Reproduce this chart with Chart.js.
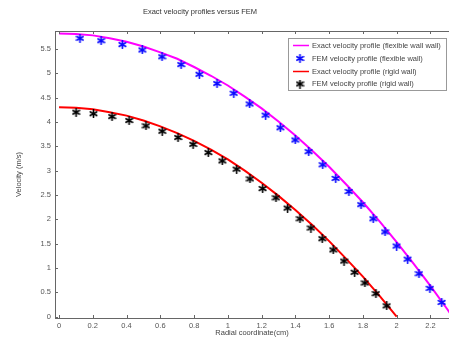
<!DOCTYPE html>
<html>
<head>
<meta charset="utf-8">
<script src="https://cdn.jsdelivr.net/npm/chart.js@4/dist/chart.umd.min.js"></script>
<style>
  html, body { margin: 0; padding: 0; background: #fff; }
  canvas { display: block; }
</style>
</head>
<body>
<canvas id="chart" width="449" height="338"></canvas>
<script>
// values
const flexExactR = [0, 0.1, 0.2, 0.3, 0.4, 0.5, 0.6, 0.7, 0.8, 0.9, 1.0, 1.1, 1.2, 1.3, 1.4, 1.5, 1.6, 1.7, 1.8, 1.9, 2.0, 2.1, 2.2, 2.3, 2.33];
const flexExactV = [5.82, 5.81, 5.78, 5.72, 5.65, 5.55, 5.43, 5.30, 5.13, 4.95, 4.75, 4.52, 4.28, 4.01, 3.72, 3.41, 3.08, 2.72, 2.35, 1.95, 1.53, 1.09, 0.63, 0.15, 0];

const flexFemR = [0.124, 0.249, 0.375, 0.493, 0.610, 0.723, 0.831, 0.936, 1.035, 1.129, 1.224, 1.311, 1.399, 1.479, 1.562, 1.639, 1.717, 1.789, 1.861, 1.931, 2.000, 2.065, 2.132, 2.197, 2.267];
const flexFemV = [5.72, 5.67, 5.59, 5.48, 5.34, 5.18, 4.98, 4.79, 4.59, 4.37, 4.14, 3.88, 3.63, 3.39, 3.12, 2.84, 2.57, 2.30, 2.01, 1.74, 1.45, 1.18, 0.88, 0.58, 0.29];

const rigidExactR = [0, 0.1, 0.2, 0.3, 0.4, 0.5, 0.6, 0.7, 0.8, 0.9, 1.0, 1.1, 1.2, 1.3, 1.4, 1.5, 1.6, 1.7, 1.8, 1.9, 2.0];
const rigidExactV = [4.30, 4.29, 4.26, 4.20, 4.13, 4.03, 3.91, 3.77, 3.61, 3.43, 3.23, 3.00, 2.75, 2.48, 2.19, 1.88, 1.55, 1.19, 0.82, 0.42, 0];

const rigidFemR = [0.101, 0.204, 0.314, 0.415, 0.515, 0.611, 0.705, 0.794, 0.884, 0.967, 1.052, 1.131, 1.206, 1.285, 1.354, 1.427, 1.492, 1.559, 1.624, 1.688, 1.751, 1.812, 1.877, 1.941];
const rigidFemV = [4.20, 4.17, 4.11, 4.03, 3.92, 3.81, 3.68, 3.54, 3.37, 3.20, 3.03, 2.83, 2.63, 2.44, 2.23, 2.01, 1.82, 1.60, 1.37, 1.14, 0.91, 0.69, 0.47, 0.22];

const seriesLabels = [
    'Exact velocity profile (flexible wall wall)',
    'FEM velocity profile (flexible wall)',
    'Exact velocity profile (rigid wall)',
    'FEM velocity profile (rigid wall)'
];

const chartTitle = 'Exact velocity profiles versus FEM';
const xTitle = 'Radial coordinate(cm)';
const yTitle = 'Velocity (m/s)';

const FONT = "'Liberation Sans', Arial, sans-serif";
const AXIS = '#666';

function pairs(xs, ys) {
    return xs.map((x, i) => ({ x: x, y: ys[i] }));
}

function fmt(v) {
    return String(Math.round(v * 10) / 10);
}

// small six-armed asterisk used as the marker
function starSprite(color, size) {
    const c = document.createElement('canvas');
    c.width = size;
    c.height = size;
    const g = c.getContext('2d');
    const m = size / 2;
    const r = size / 2 - 0.8;
    g.strokeStyle = color;
    g.fillStyle = color;
    g.lineWidth = 1.7;
    g.lineCap = 'round';
    g.beginPath();
    for (let k = 0; k < 3; k++) {
        const ang = Math.PI / 2 + k * Math.PI / 3;
        g.moveTo(m + r * Math.cos(ang), m - r * Math.sin(ang));
        g.lineTo(m - r * Math.cos(ang), m + r * Math.sin(ang));
    }
    g.stroke();
    g.beginPath();
    g.arc(m, m, size * 0.2, 0, Math.PI * 2);
    g.fill();
    return c;
}

const blueStar = starSprite('#0a0aff', 9);
const blackStar = starSprite('#000', 9);

// inward ticks, top frame line, title and the boxed legend
const decor = {
    id: 'decor',
    afterDraw(chart) {
        const ctx = chart.ctx;
        const a = chart.chartArea;
        const x = chart.scales.x;
        const y = chart.scales.y;
        ctx.save();
        ctx.strokeStyle = AXIS;
        ctx.lineWidth = 1;
        ctx.beginPath();
        ctx.moveTo(a.left, a.top + 0.5);
        ctx.lineTo(a.right, a.top + 0.5);
        x.ticks.forEach(function (t) {
            const px = Math.round(x.getPixelForValue(t.value)) + 0.5;
            ctx.moveTo(px, a.bottom);
            ctx.lineTo(px, a.bottom - 3);
            ctx.moveTo(px, a.top);
            ctx.lineTo(px, a.top + 3);
        });
        y.ticks.forEach(function (t) {
            const py = Math.round(y.getPixelForValue(t.value)) + 0.5;
            ctx.moveTo(a.left, py);
            ctx.lineTo(a.left + 3, py);
        });
        ctx.stroke();

        // title
        ctx.fillStyle = '#333';
        ctx.font = '7.5px ' + FONT;
        ctx.textAlign = 'center';
        ctx.textBaseline = 'middle';
        ctx.fillText(chartTitle, 200, 12);

        // legend
        const box = { left: 288.5, top: 38.5, w: 158, h: 52 };
        ctx.fillStyle = '#fff';
        ctx.fillRect(box.left, box.top, box.w, box.h);
        ctx.strokeStyle = '#999';
        ctx.strokeRect(box.left, box.top, box.w, box.h);
        const rows = [45.5, 58.5, 71.5, 84];
        ctx.font = '7.5px ' + FONT;
        ctx.textAlign = 'left';
        chart.data.datasets.forEach(function (ds, i) {
            const ry = rows[i];
            if (ds.showLine) {
                ctx.strokeStyle = ds.borderColor;
                ctx.lineWidth = 1.5;
                ctx.beginPath();
                ctx.moveTo(293, ry);
                ctx.lineTo(309, ry);
                ctx.stroke();
            } else {
                ctx.drawImage(ds.pointStyle, 300 - 4.5, ry - 4.5);
            }
            ctx.fillStyle = '#444';
            ctx.fillText(ds.label, 312, ry);
        });
        ctx.restore();
    }
};

new Chart(document.getElementById('chart'), {
    type: 'scatter',
    data: {
        datasets: [{
            label: seriesLabels[0],
            data: pairs(flexExactR, flexExactV),
            showLine: true,
            borderColor: '#ff00ff',
            borderWidth: 2,
            pointRadius: 0,
            order: 4
        }, {
            label: seriesLabels[1],
            data: pairs(flexFemR, flexFemV),
            showLine: false,
            pointStyle: blueStar,
            pointRadius: 4.5,
            borderColor: '#0a0aff',
            backgroundColor: '#0a0aff',
            order: 2
        }, {
            label: seriesLabels[2],
            data: pairs(rigidExactR, rigidExactV),
            showLine: true,
            borderColor: '#ff0000',
            borderWidth: 2,
            pointRadius: 0,
            order: 3
        }, {
            label: seriesLabels[3],
            data: pairs(rigidFemR, rigidFemV),
            showLine: false,
            pointStyle: blackStar,
            pointRadius: 4.5,
            borderColor: '#000',
            backgroundColor: '#000',
            order: 1
        }]
    },
    options: {
        responsive: false,
        animation: false,
        // the plot runs off the right edge of the picture
        layout: {
            autoPadding: false,
            padding: { top: 31, left: 0, right: 0, bottom: 0 }
        },
        plugins: {
            legend: { display: false },
            title: { display: false },
            tooltip: { enabled: false }
        },
        scales: {
            x: {
                type: 'linear',
                min: -0.024,
                max: 2.31,
                grid: { display: false, drawTicks: false },
                border: { display: true, color: AXIS, width: 1 },
                ticks: {
                    stepSize: 0.2,
                    includeBounds: false,
                    autoSkip: false,
                    maxRotation: 0,
                    padding: 3,
                    color: '#555',
                    font: { family: FONT, size: 7.5 },
                    callback: fmt
                },
                title: {
                    display: true,
                    text: xTitle,
                    color: '#444',
                    font: { family: FONT, size: 7.5 },
                    padding: { top: 0, bottom: 1 }
                },
                afterFit: function (s) {
                    s.height = 20;
                    s.paddingLeft = 0;
                    s.paddingRight = 0;
                }
            },
            y: {
                type: 'linear',
                min: -0.03,
                max: 5.87,
                grid: { display: false, drawTicks: false },
                border: { display: true, color: AXIS, width: 1 },
                ticks: {
                    stepSize: 0.5,
                    includeBounds: false,
                    padding: 4,
                    color: '#555',
                    font: { family: FONT, size: 7.5 },
                    callback: fmt
                },
                title: {
                    display: true,
                    text: yTitle,
                    color: '#444',
                    font: { family: FONT, size: 7.5 },
                    padding: { top: 14, bottom: 0 }
                },
                afterFit: function (s) { s.width = 55; }
            }
        }
    },
    plugins: [decor]
});
</script>
</body>
</html>
